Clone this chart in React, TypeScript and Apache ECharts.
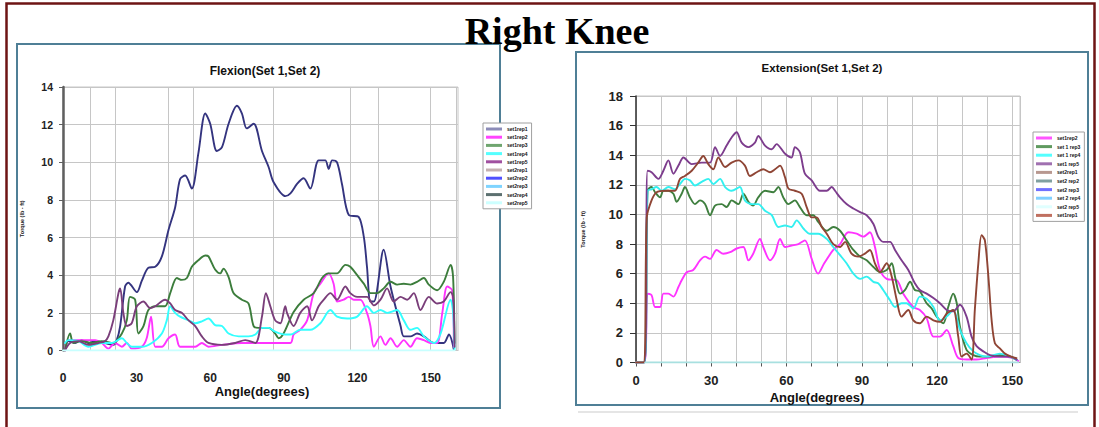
import React, { useEffect, useRef } from "react";
import * as echarts from "echarts";

type Pt = [number, number];

// ---------- Flexion (left chart) ----------
const flexionXLabels = [0, 30, 60, 90, 120, 150];
const flexionGridAngles = [11, 21.5, 42.7, 53.2, 85.8, 117.1, 128.3, 149.8, 160.3];
const flexionNames = ["set1rep1", "set1rep2", "set1rep3", "set1rep4", "set1rep5", "set2rep1", "set2rep2", "set2rep3", "set2rep4", "set2rep5"];
const flexionLegendColors = ["#8c8cb8", "#ff44ff", "#6fa56f", "#55ffff", "#a050a0", "#c4b0b0", "#5050ff", "#7fd4ff", "#5c7070", "#ccffff"];
const flexionLineColors = ["#34347f", "#ff33ff", "#3c7d3c", "#33ffff", "#7a3e7a", "#c4b0b0", "#5050ff", "#7fd4ff", "#5c7070", "#c8ffff"];

const flexSet1Rep1: Pt[] = [
  [0.8, 0], [2.2, 0.5], [4.9, 0.4], [7.6, 0.55], [10.3, 0.4], [13.1, 0.5], [17.1, 0.4], [20.5, 0.3], [21.9, 0.55], [23.3, 1.3],
  [25.3, 3.4], [26.6, 3.6], [30.1, 3.1], [32.1, 3.7], [34.8, 4.4], [37.6, 4.45], [40.3, 5.0], [43.0, 6.4], [45.7, 7.6], [47.7, 9.1],
  [49.8, 9.3], [52.5, 8.6], [55.2, 10.5], [58.0, 12.6], [60.0, 12.05], [62.7, 10.6], [64.8, 10.8], [67.5, 12.05], [70.9, 13.0], [72.9, 12.6],
  [74.9, 11.8], [77.7, 12.05], [81.1, 10.6], [83.8, 9.75], [85.8, 8.95], [90.6, 8.2], [92.7, 8.35], [95.4, 8.85], [98.1, 9.15], [100.8, 8.6],
  [104.2, 10.1], [106.9, 10.1], [108.3, 9.65], [109.7, 10.1], [111.7, 10.0], [113.7, 8.85], [116.5, 7.2], [120.5, 7.1], [122.6, 6.05], [123.9, 4.45],
  [125.3, 2.6], [126.7, 2.6], [130.7, 5.35], [133.5, 3.4], [137.6, 1.3], [138.9, 0.75], [141.6, 0.75], [144.3, 0.9], [147.1, 0.75], [151.2, 0.4],
  [155.2, 0.4], [157.3, 0.85], [159.3, 0.05],
];
const flexSet1Rep2: Pt[] = [
  [0.8, 0], [2.2, 0.55], [7.6, 0.55], [13.1, 0.55], [15.8, 0.4], [18.5, 0.1], [21.2, 0.4], [24.0, 0.2], [26.0, 0.4], [28.0, 0.1],
  [32.1, 0.2], [34.1, 0.65], [35.9, 1.8], [37.6, 0.2], [40.3, 0.2], [43.0, 0.65], [45.7, 0.85], [47.7, 0.2], [53.9, 0.2], [56.6, 0.4],
  [59.3, 0.2], [64.8, 0.3], [72.9, 0.4], [81.1, 0.4], [92.7, 0.4], [94.0, 0.85], [96.7, 1.1], [99.5, 1.6], [102.2, 3.05], [104.9, 3.55],
  [108.3, 4.1], [110.3, 3.55], [111.7, 2.6], [114.4, 2.7], [116.5, 2.85], [118.5, 2.7], [121.2, 2.7], [123.9, 2.0], [125.3, 1.3], [126.7, 0.2],
  [129.4, 0.75], [131.4, 0.3], [133.5, 0.65], [136.2, 0.2], [138.9, 0.55], [141.6, 0.2], [144.3, 0.65], [147.1, 0.55], [149.8, 0.4], [152.5, 0.4],
  [154.6, 2.0], [156.6, 3.4], [158.6, 3.2], [159.3, 0.2],
];
const flexSet1Rep3: Pt[] = [
  [0.8, 0], [2.9, 0.9], [4.2, 0.4], [7.6, 0.5], [11.7, 0.4], [15.8, 0.5], [20.5, 0.4], [24.0, 0.9], [26.0, 1.6], [27.3, 2.85],
  [29.4, 2.7], [30.7, 0.9], [32.8, 1.3], [34.8, 2.15], [37.6, 2.35], [41.6, 2.35], [43.7, 3.05], [46.4, 3.85], [48.4, 3.75], [50.5, 3.85],
  [52.5, 4.45], [55.2, 4.8], [58.0, 5.05], [59.3, 5.0], [62.0, 4.3], [64.1, 4.1], [65.4, 4.35], [67.5, 3.9], [69.5, 3.05], [72.9, 2.7],
  [75.6, 2.5], [77.7, 1.3], [79.7, 1.2], [83.8, 1.2], [86.5, 0.9], [87.9, 0.65], [89.9, 0.9], [94.0, 2.05], [98.1, 2.7], [102.2, 3.05],
  [105.6, 3.85], [108.3, 4.1], [111.7, 4.1], [115.1, 4.55], [117.1, 4.45], [119.9, 4.0], [122.6, 3.55], [125.3, 3.05], [128.0, 3.05], [130.7, 3.3],
  [133.5, 3.65], [136.2, 3.5], [138.9, 3.55], [141.6, 3.5], [144.3, 3.65], [147.1, 3.85], [149.1, 3.5], [152.5, 3.2], [155.2, 3.65], [158.0, 4.55],
  [159.0, 3.9], [159.6, 0.4],
];
const flexSet1Rep4: Pt[] = [
  [0.8, 0.4], [2.2, 0.55], [6.3, 0.5], [10.3, 0.2], [15.8, 0.4], [19.9, 0.4], [24.0, 0.65], [26.0, 0.4], [28.0, 0.2], [32.1, 0.2],
  [36.2, 0.4], [40.3, 0.9], [42.3, 1.6], [43.7, 2.35], [45.7, 2.0], [47.7, 1.8], [51.2, 1.6], [53.9, 1.45], [56.6, 1.55], [59.3, 1.7],
  [62.0, 1.35], [64.8, 1.3], [67.5, 0.9], [71.6, 0.75], [75.6, 0.75], [78.4, 0.85], [81.1, 1.2], [83.8, 1.2], [86.5, 1.0], [90.6, 0.85],
  [92.7, 0.85], [96.7, 1.1], [100.8, 1.1], [104.9, 1.45], [109.0, 2.15], [111.7, 1.8], [115.8, 1.7], [119.9, 1.8], [123.9, 2.35], [126.7, 2.0],
  [129.4, 2.15], [132.1, 2.0], [136.2, 2.15], [138.9, 1.6], [141.6, 1.1], [144.3, 1.2], [147.1, 0.75], [151.2, 0.4], [153.9, 0.9], [158.0, 2.7],
  [159.0, 2.0], [159.6, 0.05],
];
const flexSet1Rep5: Pt[] = [
  [0.8, 0], [2.9, 0.4], [6.3, 0.5], [10.3, 0.3], [14.4, 0.4], [17.1, 0.5], [18.5, 0.75], [20.5, 1.6], [22.6, 3.05], [23.3, 3.3],
  [24.6, 2.0], [26.0, 1.3], [28.0, 1.45], [30.1, 2.35], [32.8, 2.6], [35.5, 2.25], [37.6, 2.35], [41.6, 2.7], [43.7, 2.5], [45.7, 2.15],
  [48.4, 2.0], [51.2, 1.6], [53.9, 1.3], [56.6, 0.75], [59.3, 0.4], [64.8, 0.3], [70.2, 0.4], [74.3, 0.55], [78.4, 0.4], [81.1, 1.8],
  [82.7, 3.05], [84.5, 2.35], [86.5, 1.6], [88.6, 1.45], [90.6, 2.35], [91.3, 2.0], [94.0, 1.3], [96.7, 2.0], [99.5, 2.35], [101.5, 1.6],
  [104.2, 2.35], [106.3, 2.7], [109.0, 3.05], [111.7, 2.7], [115.1, 3.4], [117.1, 3.05], [119.9, 2.85], [123.9, 2.85], [126.7, 2.4], [129.4, 2.7],
  [132.1, 3.3], [134.8, 2.6], [137.6, 2.85], [140.3, 2.7], [143.0, 3.05], [145.7, 2.15], [149.1, 2.85], [152.5, 2.5], [155.2, 2.6], [158.0, 3.1],
  [159.0, 2.85], [159.6, 0.2],
];
const flexSet2Rep5: Pt[] = [[0, 0], [159.6, 0]];

// ---------- Extension (right chart) ----------
const extensionXLabels = [0, 30, 60, 90, 120, 150];
const extensionNames = ["set1rep2", "set 1 rep3", "set 1 rep4", "set1 rep5", "set2rep1", "set2 rep2", "set2 rep3", "set 2 rep4", "set2 rep5", "set1rep1"];
const extensionLegendColors = ["#ff55ff", "#5f9a5f", "#55ffff", "#a070b0", "#b89890", "#80a0a0", "#7070ff", "#80d0ff", "#e0ffff", "#c07060"];
const extensionLineColors = ["#ff33ff", "#3f7f3f", "#33f0f0", "#7d3d8d", "#b89890", "#80a0a0", "#7070ff", "#80d0ff", "#a8e0e0", "#8f4535"];

const extSet1Rep2: Pt[] = [
  [0, 0], [3.3, 0], [4.6, 4.65], [6.2, 4.55], [7.6, 3.75], [9.6, 3.75], [10.9, 4.65], [12.9, 4.65], [14.9, 4.45], [16.9, 5.1],
  [18.2, 5.55], [20.2, 6.1], [22.8, 6.25], [25.5, 6.9], [27.5, 7.15], [29.5, 7.0], [32.1, 7.6], [34.8, 7.35], [37.5, 7.45], [40.1, 7.7],
  [42.8, 7.8], [44.8, 6.9], [46.7, 7.35], [49.4, 8.35], [50.7, 7.8], [53.4, 6.9], [55.4, 7.35], [57.4, 8.35], [59.4, 7.8], [62.0, 7.9],
  [64.7, 8.0], [67.3, 8.25], [70.0, 7.0], [72.5, 6.0], [75.0, 6.7], [78.6, 7.6], [81.3, 8.0], [84.6, 8.8], [87.9, 8.7], [90.6, 8.5],
  [93.2, 8.8], [95.2, 7.8], [97.2, 6.25], [99.9, 5.65], [103.9, 5.55], [106.5, 4.65], [110.5, 3.75], [113.1, 3.55], [115.8, 3.0], [118.5, 1.75],
  [121.1, 1.75], [123.8, 2.2], [126.4, 1.1], [128.4, 0.3], [131.8, 0.2], [135.7, 0.2], [139.7, 0.3], [145.0, 0.4], [150.3, 0.3], [152.3, 0.1],
];
const extSet1Rep3: Pt[] = [
  [0, 0], [3.3, 0], [4.6, 11.6], [6.2, 11.85], [7.6, 11.5], [9.6, 11.15], [10.9, 11.6], [12.9, 11.6], [14.9, 11.4], [16.2, 10.85],
  [18.2, 11.4], [19.5, 11.85], [21.5, 11.15], [23.5, 10.7], [25.5, 10.95], [27.5, 10.7], [29.5, 9.95], [31.5, 10.6], [34.1, 10.7], [36.1, 10.5],
  [38.1, 10.95], [40.8, 10.7], [42.8, 11.4], [44.8, 10.85], [46.7, 10.6], [48.7, 11.15], [51.4, 11.6], [54.7, 11.5], [56.7, 11.85], [58.7, 11.15],
  [60.7, 10.7], [63.3, 10.95], [65.3, 10.5], [68.0, 9.95], [70.6, 9.95], [72.6, 9.5], [76.0, 8.9], [78.6, 9.15], [81.3, 8.9], [83.9, 8.25],
  [86.6, 7.6], [89.3, 7.15], [91.9, 6.9], [94.6, 6.45], [97.2, 6.1], [99.9, 6.25], [101.9, 6.7], [103.2, 5.8], [105.2, 4.65], [107.2, 4.9],
  [109.2, 5.45], [111.1, 4.9], [113.1, 4.8], [115.8, 4.0], [117.8, 3.65], [119.8, 3.1], [122.4, 2.65], [124.4, 3.75], [126.4, 4.65], [127.8, 4.0],
  [129.1, 2.4], [131.7, 0.85], [134.4, 0.5], [137.0, 0.4], [141.0, 0.4], [145.0, 0.5], [149.0, 0.4], [151.6, 0.2],
];
const extSet1Rep4: Pt[] = [
  [0, 0], [3.3, 0], [4.6, 11.6], [6.2, 11.7], [8.2, 11.85], [10.2, 11.6], [12.9, 11.85], [15.5, 11.7], [17.5, 12.05], [19.5, 12.4],
  [21.5, 12.3], [23.5, 11.95], [26.2, 12.2], [28.8, 12.4], [30.8, 12.05], [33.5, 12.4], [35.5, 11.85], [38.1, 11.6], [41.4, 11.85], [43.4, 10.95],
  [46.1, 10.7], [48.7, 10.7], [51.4, 10.25], [54.1, 9.95], [56.7, 9.15], [59.4, 9.25], [62.0, 9.15], [64.0, 9.6], [66.7, 9.05], [69.3, 8.7],
  [72.6, 8.7], [76.0, 8.35], [78.6, 7.8], [81.3, 7.25], [83.9, 6.7], [86.6, 6.0], [89.3, 5.65], [91.9, 5.8], [94.6, 5.45], [96.5, 5.35],
  [98.5, 4.9], [101.2, 4.2], [103.2, 3.75], [105.8, 4.0], [107.8, 4.0], [110.5, 3.65], [113.1, 4.45], [115.8, 4.3], [118.5, 3.75], [121.1, 2.85],
  [123.8, 3.1], [126.4, 3.55], [129.1, 2.2], [131.7, 1.3], [134.4, 0.75], [137.0, 0.5], [139.7, 0.4], [145.0, 0.6], [149.0, 0.4], [151.6, 0.2],
];
const extSet1Rep5: Pt[] = [
  [0, 0], [3.3, 0], [4.6, 12.95], [6.2, 12.85], [8.9, 12.4], [10.9, 12.95], [12.9, 13.65], [14.9, 12.75], [16.9, 13.3], [18.9, 13.85],
  [22.2, 13.4], [26.2, 13.5], [29.5, 13.5], [31.5, 14.55], [33.5, 13.95], [36.1, 14.65], [38.1, 15.2], [40.1, 15.55], [42.1, 14.85], [44.8, 14.55],
  [47.4, 14.85], [48.7, 15.3], [51.4, 14.65], [54.1, 14.4], [56.0, 14.75], [59.4, 14.1], [62.0, 13.85], [63.3, 14.55], [65.3, 14.2], [67.3, 12.75],
  [70.0, 12.3], [73.3, 11.6], [76.0, 11.6], [78.0, 11.85], [79.3, 11.6], [81.3, 11.15], [83.9, 10.7], [86.6, 10.4], [89.3, 10.15], [91.9, 9.95],
  [94.6, 9.35], [96.5, 8.5], [98.5, 8.15], [101.2, 8.15], [103.2, 7.6], [105.8, 6.9], [108.5, 6.25], [111.1, 5.35], [113.1, 4.9], [115.8, 4.65],
  [118.5, 4.35], [121.1, 4.0], [123.8, 3.55], [126.4, 3.45], [129.1, 3.9], [131.7, 3.1], [133.7, 1.75], [135.7, 1.1], [138.4, 0.75], [141.0, 0.5],
  [145.0, 0.4], [149.0, 0.4], [151.6, 0.2],
];
const extSet1Rep1: Pt[] = [
  [0, 0], [3.0, 0], [4.3, 9.8], [6.2, 10.95], [8.2, 11.5], [11.6, 11.6], [15.5, 11.6], [17.5, 12.4], [19.5, 12.6], [22.2, 12.95],
  [24.8, 13.5], [26.8, 13.95], [28.8, 13.4], [30.8, 13.05], [32.8, 13.85], [35.5, 13.2], [38.1, 13.5], [40.8, 13.65], [43.4, 13.3], [45.4, 12.6],
  [48.1, 12.85], [50.7, 13.05], [53.4, 12.85], [55.4, 13.05], [57.4, 13.3], [59.4, 12.5], [60.7, 11.75], [63.3, 11.6], [66.0, 11.4], [68.0, 10.5],
  [70.0, 9.8], [72.0, 9.8], [74.0, 9.15], [76.0, 8.7], [78.6, 8.0], [81.3, 7.8], [83.3, 8.15], [85.9, 7.35], [88.6, 7.15], [91.2, 7.35],
  [93.2, 7.6], [95.2, 6.7], [97.2, 6.1], [99.9, 6.7], [101.9, 5.8], [103.9, 4.2], [105.8, 3.1], [108.5, 3.55], [110.5, 2.85], [113.1, 2.65],
  [115.8, 3.1], [118.5, 2.85], [121.1, 2.75], [123.8, 3.3], [126.4, 3.55], [128.4, 1.75], [129.7, 0.4], [131.7, 0.6], [133.7, 0.2], [135.0, 3.55],
  [136.4, 6.7], [137.7, 8.6], [139.0, 8.25], [140.4, 5.8], [141.7, 2.85], [143.0, 1.3], [145.0, 0.95], [147.0, 0.6], [149.6, 0.4], [151.6, 0.3],
];
const extSet2Rep5: Pt[] = [[0, 0], [152.3, 0]];

const flexionData: Record<string, Pt[]> = {
  set1rep1: flexSet1Rep1, set1rep2: flexSet1Rep2, set1rep3: flexSet1Rep3, set1rep4: flexSet1Rep4, set1rep5: flexSet1Rep5, set2rep5: flexSet2Rep5,
};
const extensionData: Record<string, Pt[]> = {
  "set1rep2": extSet1Rep2, "set 1 rep3": extSet1Rep3, "set 1 rep4": extSet1Rep4, "set1 rep5": extSet1Rep5, "set2 rep5": extSet2Rep5, "set1rep1": extSet1Rep1,
};

const SANS = '"Liberation Sans", Arial, sans-serif';

export default function App() {
  const ref = useRef<HTMLDivElement>(null);
  useEffect(() => {
    if (!ref.current) return;
    const chart = echarts.init(ref.current, null, { renderer: "svg" });

    const lineSeries = (name: string, data: Pt[], color: string, gi: number, extra: any = {}) => ({
      type: "line",
      name,
      xAxisIndex: gi,
      yAxisIndex: gi,
      data,
      showSymbol: false,
      symbol: "none",
      silent: true,
      smooth: 0.3,
      lineStyle: { color, width: 1.9, join: "round", cap: "round" },
      itemStyle: { color },
      ...extra,
    });

    const series: any[] = [];
    flexionNames.forEach((n, i) => {
      const extra = n === "set2rep5"
        ? {
            markLine: {
              silent: true, symbol: "none", label: { show: false },
              lineStyle: { color: "#c6c6c6", width: 1, type: "solid" },
              data: flexionGridAngles.map((a) => ({ xAxis: a })),
              z: 0,
            },
          }
        : {};
      series.push(lineSeries(n, flexionData[n] || [], flexionLineColors[i], 0, extra));
    });
    extensionNames.forEach((n, i) => {
      series.push(lineSeries(n, extensionData[n] || [], extensionLineColors[i], 1));
    });

    const labelFmt = (list: number[]) => (v: number) => (list.indexOf(v) >= 0 ? String(v) : "");

    const option: any = {
      animation: false,
      backgroundColor: "#ffffff",
      grid: [
        { left: 63, top: 87, width: 395, height: 263.5, show: true, borderColor: "#c6c6c6", borderWidth: 1, backgroundColor: "transparent" },
        { left: 636, top: 96, width: 384, height: 266.5, show: true, borderColor: "#c6c6c6", borderWidth: 1, backgroundColor: "transparent" },
      ],
      xAxis: [
        {
          gridIndex: 0, type: "value", min: 0, max: 161, interval: 30,
          splitLine: { show: false },
          axisLine: { show: true, lineStyle: { color: "#c6c6c6", width: 1 } },
          axisTick: { show: false },
          axisLabel: { margin: 21, fontSize: 12, fontWeight: "bold", color: "#222", fontFamily: SANS, formatter: labelFmt(flexionXLabels), showMaxLabel: false },
        },
        {
          gridIndex: 1, type: "value", min: 0, max: 153, interval: 10,
          splitLine: { show: true, lineStyle: { color: "#c6c6c6", width: 1 } },
          axisLine: { show: true, lineStyle: { color: "#9a9a9a", width: 1 } },
          axisTick: { show: true, length: 4, lineStyle: { color: "#555" } },
          axisLabel: { margin: 11, fontSize: 13, fontWeight: "bold", color: "#222", fontFamily: SANS, formatter: labelFmt(extensionXLabels), showMaxLabel: false },
        },
      ],
      yAxis: [
        {
          gridIndex: 0, type: "value", min: 0, max: 14, interval: 2,
          name: "Torque (lb - ft)", nameLocation: "middle", nameGap: 38, nameRotate: 90,
          nameTextStyle: { fontSize: 5.5, fontWeight: "bold", color: "#222", fontFamily: SANS },
          splitLine: { show: true, lineStyle: { color: "#c6c6c6", width: 1 } },
          axisLine: { show: true, lineStyle: { color: "#5f5f5f", width: 2.5 } },
          axisTick: { show: true, length: 4, lineStyle: { color: "#5f5f5f" } },
          axisLabel: { margin: 10, fontSize: 10.5, fontWeight: "bold", color: "#222", fontFamily: SANS },
        },
        {
          gridIndex: 1, type: "value", min: 0, max: 18, interval: 2,
          name: "Torque (lb - ft)", nameLocation: "middle", nameGap: 50, nameRotate: 90,
          nameTextStyle: { fontSize: 5.5, fontWeight: "bold", color: "#222", fontFamily: SANS },
          splitLine: { show: true, lineStyle: { color: "#c6c6c6", width: 1 } },
          axisLine: { show: true, lineStyle: { color: "#333", width: 1.5 } },
          axisTick: { show: true, length: 6, lineStyle: { color: "#333" } },
          axisLabel: { margin: 13, fontSize: 13, fontWeight: "bold", color: "#222", fontFamily: SANS },
        },
      ],
      legend: [
        {
          orient: "vertical", left: 483, top: 123, icon: "rect",
          itemWidth: 16, itemHeight: 3, itemGap: 2.2, itemTextGap: 3,
          padding: [3, 4, 3, 3], borderColor: "#a0a0a0", borderWidth: 1, backgroundColor: "#ffffff",
          selectedMode: false,
          textStyle: { fontSize: 5, lineHeight: 6, fontWeight: "bold", color: "#111", fontFamily: SANS },
          data: flexionNames.map((n, i) => ({ name: n, itemStyle: { color: flexionLegendColors[i] } })),
        },
        {
          orient: "vertical", left: 1033, top: 132, icon: "rect",
          itemWidth: 16, itemHeight: 3, itemGap: 2.6, itemTextGap: 3,
          padding: [3, 4, 3, 3], borderColor: "#a0a0a0", borderWidth: 1, backgroundColor: "#ffffff",
          selectedMode: false,
          textStyle: { fontSize: 5, lineHeight: 6, fontWeight: "bold", color: "#111", fontFamily: SANS },
          data: extensionNames.map((n, i) => ({ name: n, itemStyle: { color: extensionLegendColors[i] } })),
        },
      ],
      graphic: [
        { type: "rect", silent: true, z: -10, shape: { x: 6.5, y: 3.5, width: 1088, height: 440 }, style: { fill: "none", stroke: "#6e1414", lineWidth: 2.5 } },
        { type: "rect", silent: true, z: -10, shape: { x: 17, y: 44, width: 483, height: 364 }, style: { fill: "none", stroke: "#4f7f96", lineWidth: 2 } },
        { type: "rect", silent: true, z: -10, shape: { x: 576, y: 52, width: 512, height: 353 }, style: { fill: "none", stroke: "#4f7f96", lineWidth: 2 } },
        { type: "line", silent: true, z: -10, shape: { x1: 578, y1: 412, x2: 1078, y2: 412 }, style: { stroke: "#dcdcdc", lineWidth: 1.5 } },
        { type: "text", silent: true, x: 557, y: 31, style: { text: "Right Knee", font: 'bold 38px "Liberation Serif", "Times New Roman", serif', fill: "#000", textAlign: "center", textVerticalAlign: "middle", align: "center", verticalAlign: "middle" } },
        { type: "text", silent: true, x: 265, y: 71, style: { text: "Flexion(Set 1,Set 2)", font: `bold 12px ${SANS}`, fill: "#111", textAlign: "center", textVerticalAlign: "middle", align: "center", verticalAlign: "middle" } },
        { type: "text", silent: true, x: 822, y: 68, style: { text: "Extension(Set 1,Set 2)", font: `bold 11.5px ${SANS}`, fill: "#111", textAlign: "center", textVerticalAlign: "middle", align: "center", verticalAlign: "middle" } },
        { type: "text", silent: true, x: 262, y: 391, style: { text: "Angle(degrees)", font: `bold 13px ${SANS}`, fill: "#111", textAlign: "center", textVerticalAlign: "middle", align: "center", verticalAlign: "middle" } },
        { type: "text", silent: true, x: 817, y: 397, style: { text: "Angle(degrees)", font: `bold 13px ${SANS}`, fill: "#111", textAlign: "center", textVerticalAlign: "middle", align: "center", verticalAlign: "middle" } },
      ],
      series,
    };
    chart.setOption(option);
    return () => chart.dispose();
  }, []);

  return <div ref={ref} style={{ position: "absolute", left: 0, top: 0, width: 1099, height: 427 }} />;
}
